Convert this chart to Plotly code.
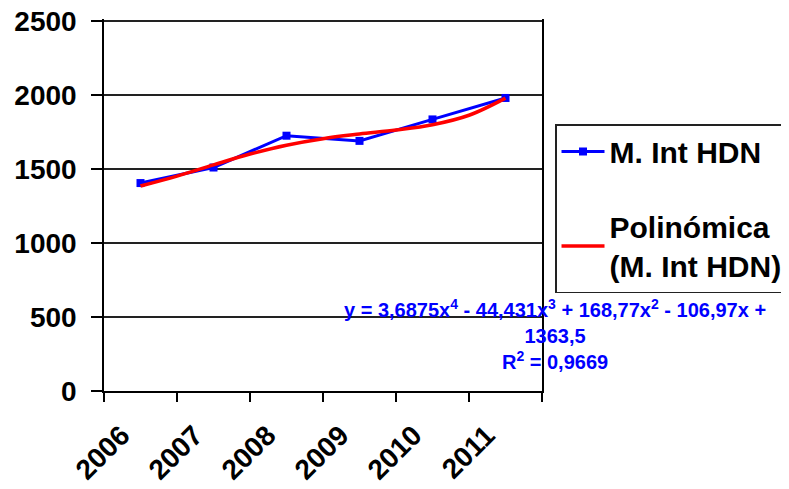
import plotly.graph_objects as go

years = ["2006", "2007", "2008", "2009", "2010", "2011"]
x_pos = [1, 2, 3, 4, 5, 6]
values = [1405, 1510, 1725, 1690, 1835, 1980]

# trendline (at half-category steps)
trend_x = [1, 1.5, 2, 2.5, 3, 3.5, 4, 4.5, 5, 5.5, 6]
trend_y = [1385, 1452, 1528, 1601, 1661, 1705, 1736, 1763, 1799, 1863, 1979]

y_ticks = [0, 500, 1000, 1500, 2000, 2500]

FONT = "Liberation Sans, Arial, sans-serif"

fig = go.Figure()
fig.add_trace(go.Scatter(
    x=x_pos, y=values, mode="lines+markers", name="M. Int HDN",
    line=dict(color="#0000FF", width=3),
    marker=dict(symbol="square", size=8, color="#0000FF"),
    legendgroup="a",
))
fig.add_trace(go.Scatter(
    x=trend_x, y=trend_y, mode="lines", name="Polinómica<br>(M. Int HDN)",
    line=dict(color="#FF0000", width=3.5, shape="spline"),
    legendgroup="b",
))

fig.update_layout(
    width=781, height=481,
    margin=dict(l=96, r=247, t=11, b=98, autoexpand=False),
    paper_bgcolor="white", plot_bgcolor="white",
    font=dict(family=FONT, color="black"),
    showlegend=True,
    legend=dict(
        x=1.0297, y=0.7176, xanchor="left", yanchor="top",
        xref="paper", yref="paper",
        bordercolor="#222", borderwidth=1.5,
        font=dict(size=30, family=FONT, weight="bold"),
        traceorder="grouped", tracegroupgap=33,
        itemwidth=43,
    ),
    xaxis=dict(
        range=[0.5, 6.5], tickmode="array", tickvals=x_pos, ticktext=years,
        ticks="", tickangle=-45, automargin=False, ticklabeloverflow="allow",
        tickfont=dict(size=28, family=FONT, weight="bold"),
        ticklabelstandoff=15, ticklabelshift=-19,
        showline=True, linecolor="black", linewidth=1.5, mirror=False,
        showgrid=False, zeroline=False,
        minor=dict(tick0=0.5, dtick=1, ticks="outside", ticklen=9,
                   tickcolor="black", tickwidth=1.5, showgrid=False),
    ),
    yaxis=dict(
        range=[0, 2513.5], tickmode="array", tickvals=y_ticks, automargin=False,
        ticklabeloverflow="allow",
        ticks="outside", ticklen=11, tickcolor="black", tickwidth=1.5,
        tickfont=dict(size=28, family=FONT, weight="bold"),
        ticklabelstandoff=9,
        showline=True, linecolor="black", linewidth=1.5, mirror=True,
        showgrid=True, gridcolor="#222", gridwidth=1.5, zeroline=False,
    ),
)

fig.add_annotation(
    xref="paper", yref="paper", x=1.0297, y=0.262, xanchor="center", yanchor="top",
    text=("y = 3,6875x<sup>4</sup> - 44,431x<sup>3</sup> + 168,77x<sup>2</sup> - 106,97x +"
          "<br>1363,5<br>R<sup>2</sup> = 0,9669"),
    showarrow=False, align="center",
    font=dict(size=20, color="#0000FF", family=FONT, weight="bold"),
)

fig.write_html("out.html")
